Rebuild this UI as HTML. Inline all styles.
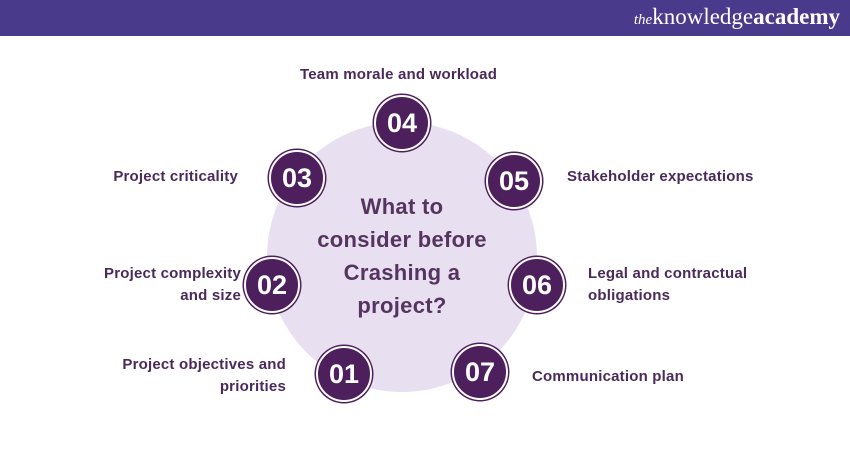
<!DOCTYPE html>
<html><head><style>
body{margin:0;width:850px;height:450px;background:#fff;position:relative;overflow:hidden;font-family:"Liberation Sans",sans-serif;}
.hdr{position:absolute;left:0;top:0;width:850px;height:36px;background:#4a3a8c;}
.logo{position:absolute;right:10px;top:4px;color:#fff;font-family:"Liberation Serif",serif;font-size:23px;}
.logo i{font-size:15px}
.big{position:absolute;left:267px;top:122px;width:270px;height:270px;border-radius:50%;background:#e8dff0;}
.ct{position:absolute;left:292px;top:190px;width:220px;text-align:center;font-weight:bold;font-size:22px;line-height:33px;color:#55355f;letter-spacing:0.3px;}
.n{position:absolute;width:52px;height:52px;border-radius:50%;background:#4d1f5c;border:2px solid #fff;box-shadow:0 0 0 1.5px #4d1f5c;color:#fff;font-weight:bold;font-size:27px;line-height:52px;text-align:center;}
.l{position:absolute;font-weight:bold;font-size:15px;line-height:22px;color:#4a2a5a;white-space:nowrap;letter-spacing:0.2px;}
.r{text-align:right}
</style></head><body>
<div class="hdr"><div class="logo"><i>the</i>knowledge<b>academy</b></div></div>
<div class="big"></div>
<div class="ct">What to<br>consider before<br>Crashing a<br>project?</div>
<div class="n" style="left:374px;top:95px">04</div>
<div class="n" style="left:269px;top:150px">03</div>
<div class="n" style="left:486px;top:153px">05</div>
<div class="n" style="left:244px;top:257px">02</div>
<div class="n" style="left:509px;top:257px">06</div>
<div class="n" style="left:316px;top:346px">01</div>
<div class="n" style="left:452px;top:344px">07</div>
<div class="l" style="left:300px;top:64px">Team morale and workload</div>
<div class="l r" style="right:612px;top:166px">Project criticality</div>
<div class="l" style="left:567px;top:166px">Stakeholder expectations</div>
<div class="l r" style="right:609px;top:263px">Project complexity<br>and size</div>
<div class="l" style="left:588px;top:263px">Legal and contractual<br>obligations</div>
<div class="l r" style="right:564px;top:354px">Project objectives and<br>priorities</div>
<div class="l" style="left:532px;top:366px">Communication plan</div>
</body></html>
